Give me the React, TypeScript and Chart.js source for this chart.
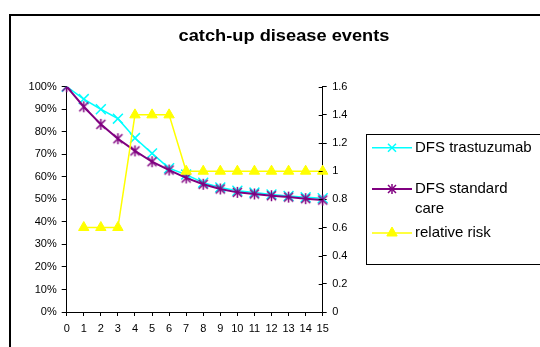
import React, { useEffect, useRef } from "react";
import { Chart, registerables } from "chart.js";

Chart.register(...registerables);

const chartTitle = "catch-up disease events";
const years = ["0", "1", "2", "3", "4", "5", "6", "7", "8", "9", "10", "11", "12", "13", "14", "15"];
const seriesNames = ["DFS trastuzumab", "DFS standard care", "relative risk"];
const legendLines = [["DFS trastuzumab"], ["DFS standard", "care"], ["relative risk"]];
const dfsTrastuzumab = [1.0, 0.945, 0.9, 0.858, 0.772, 0.704, 0.638, 0.61, 0.574, 0.553, 0.538, 0.53, 0.522, 0.515, 0.509, 0.505];
const dfsStandardCare = [1.0, 0.911, 0.833, 0.769, 0.715, 0.667, 0.63, 0.595, 0.567, 0.546, 0.531, 0.524, 0.516, 0.51, 0.503, 0.497];
const relativeRisk = [null, 0.6, 0.6, 0.6, 1.4, 1.4, 1.4, 1, 1, 1, 1, 1, 1, 1, 1, 1];

const CYAN = "#00FFFF";
const PURPLE = "#800080";
const YELLOW = "#FFFF00";
const FONT = '"Liberation Sans", Arial, sans-serif';

function drawX(ctx: CanvasRenderingContext2D, cx: number, cy: number, h: number, color: string, lw: number) {
  ctx.save();
  ctx.strokeStyle = color;
  ctx.lineWidth = lw;
  ctx.beginPath();
  ctx.moveTo(cx - h, cy - h);
  ctx.lineTo(cx + h, cy + h);
  ctx.moveTo(cx + h, cy - h);
  ctx.lineTo(cx - h, cy + h);
  ctx.stroke();
  ctx.restore();
}

function drawStar(ctx: CanvasRenderingContext2D, cx: number, cy: number, h: number, color: string, lw: number) {
  drawX(ctx, cx, cy, h, color, lw);
  ctx.save();
  ctx.strokeStyle = color;
  ctx.lineWidth = lw;
  ctx.beginPath();
  ctx.moveTo(cx, cy - h - 1);
  ctx.lineTo(cx, cy + h + 1);
  ctx.stroke();
  ctx.restore();
}

function drawTri(ctx: CanvasRenderingContext2D, cx: number, cy: number, r: number, color: string) {
  ctx.save();
  ctx.fillStyle = color;
  ctx.strokeStyle = color;
  ctx.lineWidth = 1;
  ctx.beginPath();
  for (let i = 0; i < 3; i++) {
    const a = (i * 2 * Math.PI) / 3;
    const px = cx + Math.sin(a) * r;
    const py = cy - Math.cos(a) * r;
    if (i === 0) ctx.moveTo(px, py);
    else ctx.lineTo(px, py);
  }
  ctx.closePath();
  ctx.fill();
  ctx.stroke();
  ctx.restore();
}

function makeStarCanvas(color: string) {
  const c = document.createElement("canvas");
  c.width = 13;
  c.height = 13;
  const ctx = c.getContext("2d")!;
  drawStar(ctx, 6.5, 6.5, 4.5, color, 1.5);
  return c;
}

const decor = {
  id: "decor",
  beforeDraw(chart: any) {
    const ctx = chart.ctx as CanvasRenderingContext2D;
    ctx.save();
    ctx.strokeStyle = "#000";
    ctx.lineWidth = 2;
    ctx.beginPath();
    ctx.moveTo(10, 347);
    ctx.lineTo(10, 15);
    ctx.lineTo(540, 15);
    ctx.stroke();
    ctx.restore();
  },
  afterDraw(chart: any) {
    const ctx = chart.ctx as CanvasRenderingContext2D;
    // title
    ctx.save();
    ctx.translate(284, 36.5);
    ctx.scale(1.14, 1);
    ctx.font = `bold 16px ${FONT}`;
    ctx.fillStyle = "#000";
    ctx.textAlign = "center";
    ctx.textBaseline = "middle";
    ctx.fillText(chartTitle, 0, 0);
    ctx.restore();

    // inner half of right axis ticks
    const s = chart.scales.y1;
    const right = chart.chartArea.right;
    ctx.save();
    ctx.strokeStyle = "#000";
    ctx.lineWidth = 1;
    ctx.beginPath();
    s.ticks.forEach((t: any) => {
      const y = Math.round(s.getPixelForValue(t.value)) + 0.5;
      ctx.moveTo(right - 4, y);
      ctx.lineTo(right, y);
    });
    ctx.stroke();
    ctx.restore();

    // legend
    ctx.save();
    ctx.strokeStyle = "#000";
    ctx.lineWidth = 1;
    ctx.strokeRect(366.5, 134.5, 200, 130);
    const rows = [147.7, 189, 233];
    const colors = [CYAN, PURPLE, YELLOW];
    const widths = [1.5, 2, 1.5];
    ctx.font = `15px ${FONT}`;
    ctx.fillStyle = "#000";
    ctx.textBaseline = "middle";
    ctx.textAlign = "left";
    rows.forEach((y, i) => {
      ctx.strokeStyle = colors[i];
      ctx.lineWidth = widths[i];
      ctx.beginPath();
      ctx.moveTo(372, y);
      ctx.lineTo(412, y);
      ctx.stroke();
      if (i === 0) drawX(ctx, 392, y, 4, CYAN, 1.5);
      if (i === 1) drawStar(ctx, 392, y, 4, PURPLE, 1.5);
      if (i === 2) drawTri(ctx, 392, y, 6, YELLOW);
      legendLines[i].forEach((line, j) => {
        ctx.fillText(line, 415, y + j * 20);
      });
    });
    ctx.restore();
  },
};

export default function App() {
  const ref = useRef<HTMLCanvasElement | null>(null);
  useEffect(() => {
    if (!ref.current) return;
    const tickFont = { family: FONT, size: 11 };
    const starCanvas = makeStarCanvas(PURPLE);
    const chart = new Chart(ref.current, {
      type: "line",
      data: {
        labels: years,
        datasets: [
          {
            label: seriesNames[0],
            data: dfsTrastuzumab,
            yAxisID: "y",
            borderColor: CYAN,
            backgroundColor: CYAN,
            borderWidth: 1.5,
            pointStyle: "crossRot",
            pointRadius: 7,
            pointBorderWidth: 1.5,
            pointBorderColor: CYAN,
            tension: 0,
            order: 3,
          },
          {
            label: seriesNames[1],
            data: dfsStandardCare,
            yAxisID: "y",
            borderColor: PURPLE,
            backgroundColor: PURPLE,
            borderWidth: 2,
            pointStyle: starCanvas as any,
            pointRadius: 6,
            tension: 0,
            order: 2,
          },
          {
            label: seriesNames[2],
            data: relativeRisk,
            yAxisID: "y1",
            borderColor: YELLOW,
            backgroundColor: YELLOW,
            borderWidth: 1.5,
            pointStyle: "triangle",
            pointRadius: 6,
            pointBorderWidth: 1,
            pointBorderColor: YELLOW,
            tension: 0,
            order: 1,
          },
        ],
      },
      options: {
        responsive: false,
        animation: false,
        events: [],
        layout: { padding: { left: 10, top: 86.7, right: 0, bottom: 0 } },
        plugins: {
          legend: { display: false },
          title: { display: false },
          tooltip: { enabled: false },
        },
        scales: {
          x: {
            type: "category",
            offset: false,
            grid: { display: true, drawOnChartArea: false, drawTicks: true, tickLength: 4, color: "#000" },
            border: { display: true, color: "#000", width: 1 },
            ticks: { color: "#000", font: tickFont, padding: 6, maxRotation: 0, autoSkip: false },
            afterFit: (s: any) => {
              s.height = 35;
            },
          },
          y: {
            position: "left",
            min: 0,
            max: 1,
            grid: { display: true, drawOnChartArea: false, drawTicks: true, tickLength: 5, color: "#000" },
            border: { display: true, color: "#000", width: 1 },
            ticks: {
              stepSize: 0.1,
              color: "#000",
              font: tickFont,
              padding: 5,
              callback: (v: any) => Math.round(Number(v) * 100) + "%",
            },
            afterFit: (s: any) => {
              s.width = 56.7;
            },
          },
          y1: {
            position: "right",
            min: 0,
            max: 1.6,
            grid: { display: true, drawOnChartArea: false, drawTicks: true, tickLength: 4, color: "#000" },
            border: { display: true, color: "#000", width: 1 },
            ticks: {
              stepSize: 0.2,
              color: "#000",
              font: tickFont,
              padding: 5.5,
              callback: (v: any) => String(Math.round(Number(v) * 10) / 10),
            },
            afterFit: (s: any) => {
              s.width = 217.3;
            },
          },
        },
      },
      plugins: [decor],
    });
    return () => chart.destroy();
  }, []);
  return (
    <div style={{ position: "fixed", left: 0, top: 0, width: 540, height: 347, background: "#fff" }}>
      <canvas ref={ref} width={540} height={347} />
    </div>
  );
}
